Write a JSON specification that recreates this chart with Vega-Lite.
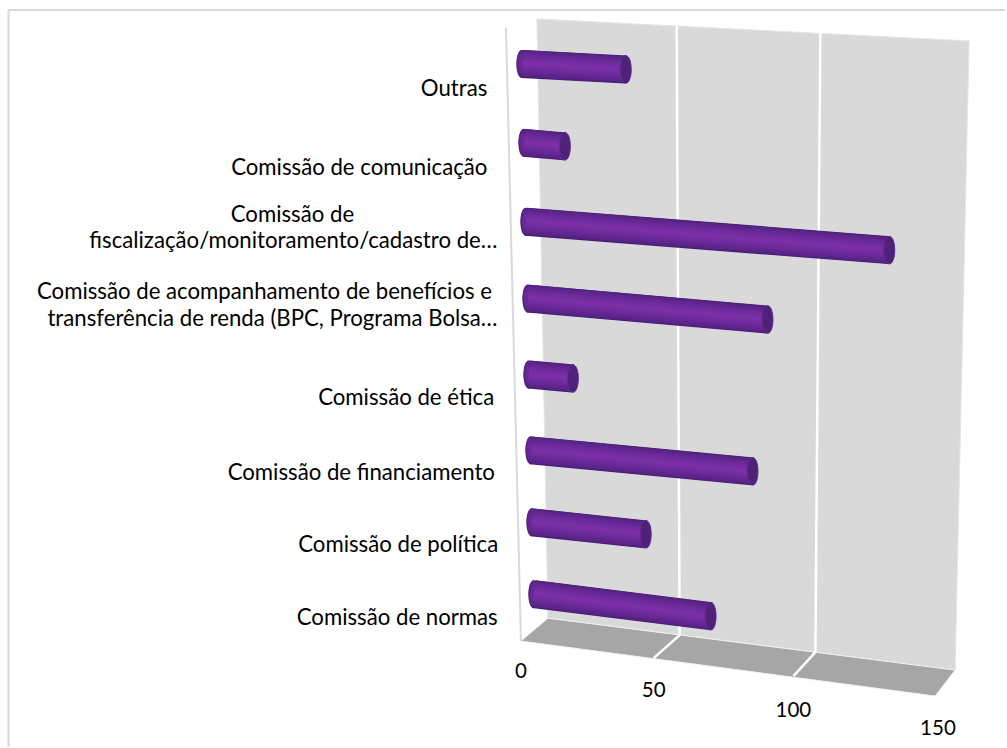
{"$schema":"https://vega.github.io/schema/vega-lite/v6.json","width":1007,"height":748,"autosize":{"type":"fit","contains":"padding"},"padding":0,"background":"white","view":{"stroke":null},"config":{"font":"Lato"},
"datasets":{
"barras":[
{"categoria":"Outras","valor":36.5,"xIni":1.05,"xFim":37.54,"yIni":7.316,"yFim":7.243},
{"categoria":"Comissão de comunicação","valor":14.4,"xIni":1.75,"xFim":16.14,"yIni":6.276,"yFim":6.23},
{"categoria":"Comissão de fiscalização/monitoramento/cadastro de…","valor":127.7,"xIni":2.46,"xFim":130.18,"yIni":5.237,"yFim":4.862},
{"categoria":"Comissão de acompanhamento de benefícios e transferência de renda (BPC, Programa Bolsa…","valor":84.2,"xIni":3.16,"xFim":87.37,"yIni":4.224,"yFim":3.947},
{"categoria":"Comissão de ética","valor":15.4,"xIni":3.51,"xFim":18.95,"yIni":3.224,"yFim":3.171},
{"categoria":"Comissão de financiamento","valor":77.9,"xIni":4.21,"xFim":82.11,"yIni":2.224,"yFim":1.947},
{"categoria":"Comissão de política","valor":40,"xIni":4.56,"xFim":44.56,"yIni":1.276,"yFim":1.118},
{"categoria":"Comissão de normas","valor":62.1,"xIni":5.26,"xFim":67.37,"yIni":0.329,"yFim":0.039}],
"parede":[{"o":1,"x":6.32,"y":7.908},{"o":2,"x":158.25,"y":7.618},{"o":3,"x":153.33,"y":-0.671},{"o":4,"x":10.18,"y":0.013},{"o":5,"x":6.32,"y":7.908}],
"piso":[{"o":1,"x":10.18,"y":0.013},{"o":2,"x":153.33,"y":-0.671},{"o":3,"x":146.32,"y":-1.013},{"o":4,"x":0.7,"y":-0.289},{"o":5,"x":10.18,"y":0.013}],
"grade":[{"x":55.44,"x2":56.49,"y":7.816,"y2":-0.211},{"x":56.49,"x2":47.37,"y":-0.211,"y2":-0.513},{"x":105.96,"x2":104.21,"y":7.724,"y2":-0.434},{"x":104.21,"x2":96.49,"y":-0.434,"y2":-0.75}],
"contorno":[{"x":-4.56,"x2":0.7,"y":7.789,"y2":-0.289},{"x":-179.47,"x2":-179.47,"y":8.026,"y2":-1.684},{"x":-179.47,"x2":170.88,"y":8.026,"y2":8.026}],
"rotulos":[
{"t":"Outras","x":-22.81,"y":6.99},
{"t":"Comissão de comunicação","x":-56.14,"y":5.951},
{"t":"Comissão de","x":-79.65,"y":5.319},
{"t":"fiscalização/monitoramento/cadastro de…","x":-79.3,"y":4.977},
{"t":"Comissão de acompanhamento de benefícios e","x":-89.47,"y":4.306},
{"t":"transferência de renda (BPC, Programa Bolsa…","x":-86.67,"y":3.951},
{"t":"Comissão de ética","x":-39.65,"y":2.911},
{"t":"Comissão de financiamento","x":-55.44,"y":1.924},
{"t":"Comissão de política","x":-42.46,"y":0.977},
{"t":"Comissão de normas","x":-42.81,"y":0.016}],
"marcas":[
{"t":"0","x":0.7,"y":-0.694},
{"t":"50","x":47.37,"y":-0.944},
{"t":"100","x":96.49,"y":-1.207},
{"t":"150","x":147.3,"y":-1.444}]
},
"encoding":{"x":{"type":"quantitative","scale":{"domain":[-182.456,170.877],"nice":false,"zero":false},"axis":null},"y":{"type":"quantitative","scale":{"domain":[-1.6842,8.1579],"nice":false,"zero":false},"axis":null}},
"layer":[
{"data":{"name":"parede"},"mark":{"type":"line","fill":"#d9d9d9","stroke":"#e4e4e4","strokeWidth":1},"encoding":{"x":{"field":"x","type":"quantitative"},"y":{"field":"y","type":"quantitative"},"order":{"field":"o"}}},
{"data":{"name":"piso"},"mark":{"type":"line","fill":"#a6a6a6","stroke":"#f2f2f2","strokeWidth":1},"encoding":{"x":{"field":"x","type":"quantitative"},"y":{"field":"y","type":"quantitative"},"order":{"field":"o"}}},
{"data":{"name":"grade"},"mark":{"type":"rule","stroke":"#ffffff","strokeWidth":2.5},"encoding":{"x":{"field":"x","type":"quantitative"},"x2":{"field":"x2"},"y":{"field":"y","type":"quantitative"},"y2":{"field":"y2"}}},
{"data":{"name":"contorno"},"mark":{"type":"rule","stroke":"#d9d9d9","strokeWidth":2},"encoding":{"x":{"field":"x","type":"quantitative"},"x2":{"field":"x2"},"y":{"field":"y","type":"quantitative"},"y2":{"field":"y2"}}},
{"data":{"name":"barras"},"mark":{"type":"point","filled":true,"opacity":1,"shape":"M0,-1C0.53,-1 0.53,1 0,1C-0.53,1 -0.53,-1 0,-1Z","size":784,"fill":"#451c6d","strokeWidth":0},"encoding":{"x":{"field":"xIni","type":"quantitative"},"y":{"field":"yIni","type":"quantitative"}}},
{"data":{"name":"barras"},"mark":{"type":"point","filled":true,"opacity":1,"shape":"M0,-1C0.53,-1 0.53,1 0,1C-0.53,1 -0.53,-1 0,-1Z","size":690,"fill":"#5a2486","strokeWidth":0,"yOffset":-0.5},"encoding":{"x":{"field":"xIni","type":"quantitative"},"y":{"field":"yIni","type":"quantitative"}}},
{"data":{"name":"barras"},"mark":{"type":"point","filled":true,"opacity":1,"shape":"M0,-1C0.53,-1 0.53,1 0,1C-0.53,1 -0.53,-1 0,-1Z","size":480,"fill":"#62278f","strokeWidth":0,"yOffset":-1},"encoding":{"x":{"field":"xIni","type":"quantitative"},"y":{"field":"yIni","type":"quantitative"}}},
{"data":{"name":"barras"},"mark":{"type":"point","filled":true,"opacity":1,"shape":"M0,-1C0.53,-1 0.53,1 0,1C-0.53,1 -0.53,-1 0,-1Z","size":260,"fill":"#6a2a96","strokeWidth":0,"yOffset":-1},"encoding":{"x":{"field":"xIni","type":"quantitative"},"y":{"field":"yIni","type":"quantitative"}}},
{"data":{"name":"barras"},"mark":{"type":"rule","stroke":"#451c6d","strokeWidth":28},"encoding":{"x":{"field":"xIni","type":"quantitative"},"x2":{"field":"xFim"},"y":{"field":"yIni","type":"quantitative"},"y2":{"field":"yFim"}}},
{"data":{"name":"barras"},"mark":{"type":"rule","stroke":"#532181","strokeWidth":27,"yOffset":-0.3},"encoding":{"x":{"field":"xIni","type":"quantitative"},"x2":{"field":"xFim"},"y":{"field":"yIni","type":"quantitative"},"y2":{"field":"yFim"}}},
{"data":{"name":"barras"},"mark":{"type":"rule","stroke":"#5a2489","strokeWidth":25,"yOffset":-0.6},"encoding":{"x":{"field":"xIni","type":"quantitative"},"x2":{"field":"xFim"},"y":{"field":"yIni","type":"quantitative"},"y2":{"field":"yFim"}}},
{"data":{"name":"barras"},"mark":{"type":"rule","stroke":"#5f268e","strokeWidth":22,"yOffset":-1},"encoding":{"x":{"field":"xIni","type":"quantitative"},"x2":{"field":"xFim"},"y":{"field":"yIni","type":"quantitative"},"y2":{"field":"yFim"}}},
{"data":{"name":"barras"},"mark":{"type":"rule","stroke":"#642892","strokeWidth":19,"yOffset":-1},"encoding":{"x":{"field":"xIni","type":"quantitative"},"x2":{"field":"xFim"},"y":{"field":"yIni","type":"quantitative"},"y2":{"field":"yFim"}}},
{"data":{"name":"barras"},"mark":{"type":"rule","stroke":"#692a97","strokeWidth":16,"yOffset":-1},"encoding":{"x":{"field":"xIni","type":"quantitative"},"x2":{"field":"xFim"},"y":{"field":"yIni","type":"quantitative"},"y2":{"field":"yFim"}}},
{"data":{"name":"barras"},"mark":{"type":"rule","stroke":"#6e2c9c","strokeWidth":13,"yOffset":-1},"encoding":{"x":{"field":"xIni","type":"quantitative"},"x2":{"field":"xFim"},"y":{"field":"yIni","type":"quantitative"},"y2":{"field":"yFim"}}},
{"data":{"name":"barras"},"mark":{"type":"rule","stroke":"#722da0","strokeWidth":10,"yOffset":-1},"encoding":{"x":{"field":"xIni","type":"quantitative"},"x2":{"field":"xFim"},"y":{"field":"yIni","type":"quantitative"},"y2":{"field":"yFim"}}},
{"data":{"name":"barras"},"mark":{"type":"rule","stroke":"#762ea4","strokeWidth":7,"yOffset":-1},"encoding":{"x":{"field":"xIni","type":"quantitative"},"x2":{"field":"xFim"},"y":{"field":"yIni","type":"quantitative"},"y2":{"field":"yFim"}}},
{"data":{"name":"barras"},"mark":{"type":"rule","stroke":"#7a2fa7","strokeWidth":4,"yOffset":-1},"encoding":{"x":{"field":"xIni","type":"quantitative"},"x2":{"field":"xFim"},"y":{"field":"yIni","type":"quantitative"},"y2":{"field":"yFim"}}},
{"data":{"name":"barras"},"mark":{"type":"point","filled":true,"opacity":1,"shape":"M0,-1C0.53,-1 0.53,1 0,1C-0.53,1 -0.53,-1 0,-1Z","size":760,"fill":"#4f2279","stroke":"#642892","strokeWidth":1},"encoding":{"x":{"field":"xFim","type":"quantitative"},"y":{"field":"yFim","type":"quantitative"}}},
{"data":{"name":"rotulos"},"mark":{"type":"text","font":"Lato","fontSize":22.2,"fill":"#000000","align":"center","baseline":"middle"},"encoding":{"x":{"field":"x","type":"quantitative"},"y":{"field":"y","type":"quantitative"},"text":{"field":"t"}}},
{"data":{"name":"marcas"},"mark":{"type":"text","font":"Lato","fontSize":20.5,"fill":"#000000","align":"center","baseline":"middle"},"encoding":{"x":{"field":"x","type":"quantitative"},"y":{"field":"y","type":"quantitative"},"text":{"field":"t"}}}
]}
